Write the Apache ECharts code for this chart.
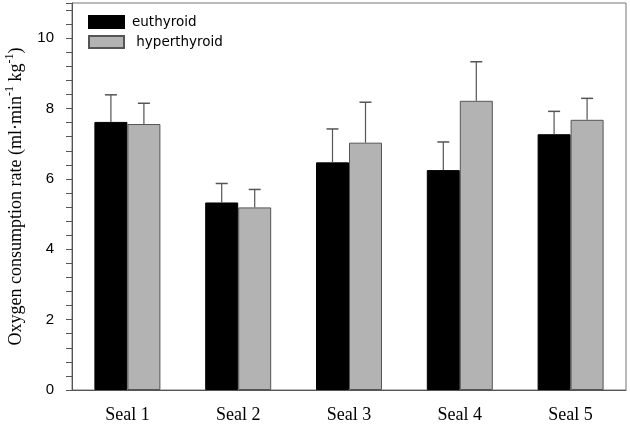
<!DOCTYPE html>
<html>
<head>
<meta charset="utf-8">
<script src="https://cdn.jsdelivr.net/npm/echarts@6/dist/echarts.min.js"></script>
<style>
  html, body { margin: 0; padding: 0; background: #fff; }
  #chart { width: 630px; height: 425px; }
</style>
</head>
<body>
<div id="chart"></div>
<script>
// categories
var seals = ['Seal 1', 'Seal 2', 'Seal 3', 'Seal 4', 'Seal 5'];
// mean values
var euthyroid = [7.62, 5.33, 6.47, 6.25, 7.27];
var hyperthyroid = [7.56, 5.19, 7.03, 8.22, 7.68];
// top of error bars (mean + SD)
var euthyroidTop = [8.39, 5.87, 7.42, 7.05, 7.92];
var hyperthyroidTop = [8.15, 5.70, 8.18, 9.33, 8.29];

var BAR_W = 33;

// 误差线：只画向上的一半
function errorBar(offset) {
  return function (params, api) {
    var i = api.value(0);
    var base = api.coord([i, api.value(1)]);
    var top = api.coord([i, api.value(2)]);
    var x = base[0] + offset;
    return {
      type: 'group',
      children: [
        { type: 'line', shape: { x1: x, y1: base[1], x2: x, y2: top[1] },
          style: { stroke: '#555', lineWidth: 1.2 } },
        { type: 'line', shape: { x1: x - 6, y1: top[1], x2: x + 6, y2: top[1] },
          style: { stroke: '#555', lineWidth: 1.5 } }
      ]
    };
  };
}

var chart = echarts.init(document.getElementById('chart'));
var option = {
  animation: false,
  grid: {
    left: 72, right: 4, top: 3, bottom: 35,
    outerBoundsMode: 'none',
    containLabel: false,
    show: true, borderColor: '#777', borderWidth: 1
  },
  legend: {
    orient: 'vertical',
    left: 83, top: 10,
    itemWidth: 35, itemHeight: 12, itemGap: 6,
    icon: 'rect',
    data: ['euthyroid', 'hyperthyroid'],
    formatter: function (name) { return name === 'hyperthyroid' ? ' ' + name : name; },
    textStyle: { fontFamily: 'DejaVu Sans', fontSize: 13.5, color: '#000', padding: [0, 0, 0, 3] }
  },
  xAxis: {
    type: 'category',
    data: seals,
    axisLine: { lineStyle: { color: '#555' } },
    axisTick: { alignWithLabel: true, length: 5, lineStyle: { color: '#555' } },
    axisLabel: { fontFamily: 'Liberation Serif', fontSize: 18, color: '#000', margin: 16 }
  },
  yAxis: {
    type: 'value',
    min: 0, max: 11, interval: 2,
    name: '{n|Oxygen consumption rate (ml·min}{s|-1}{n| kg}{s|-1}{n|)}',
    nameLocation: 'middle',
    nameGap: 47,
    nameTextStyle: {
      rich: {
        n: { fontFamily: 'Liberation Serif', fontSize: 18, color: '#000', lineHeight: 21, verticalAlign: 'bottom' },
        s: { fontFamily: 'Liberation Serif', fontSize: 12, color: '#000', lineHeight: 21, verticalAlign: 'top' }
      }
    },
    axisLine: { show: true, lineStyle: { color: '#555' } },
    axisTick: { show: true, inside: false, length: 6, lineStyle: { color: '#555' } },
    minorTick: { show: true, splitNumber: 5, length: 6, lineStyle: { color: '#555' } },
    splitLine: { show: false },
    axisLabel: { fontFamily: 'Liberation Sans', fontSize: 15, color: '#000', margin: 18,
      formatter: function (v) { return v > 10 ? '' : v; } }
  },
  series: [
    {
      name: 'euthyroid', type: 'bar', data: euthyroid,
      barWidth: BAR_W, barGap: '0%',
      itemStyle: { color: '#000', borderColor: '#000', borderWidth: 1 }
    },
    {
      name: 'hyperthyroid', type: 'bar', data: hyperthyroid,
      barWidth: BAR_W, barGap: '0%',
      itemStyle: { color: '#b3b3b3', borderColor: '#555', borderWidth: 1 }
    },
    {
      type: 'custom', z: 5,
      data: seals.map(function (s, i) { return [i, euthyroid[i], euthyroidTop[i]]; }),
      renderItem: errorBar(-BAR_W / 2)
    },
    {
      type: 'custom', z: 5,
      data: seals.map(function (s, i) { return [i, hyperthyroid[i], hyperthyroidTop[i]]; }),
      renderItem: errorBar(BAR_W / 2)
    }
  ]
};
chart.setOption(option);
</script>
</body>
</html>
